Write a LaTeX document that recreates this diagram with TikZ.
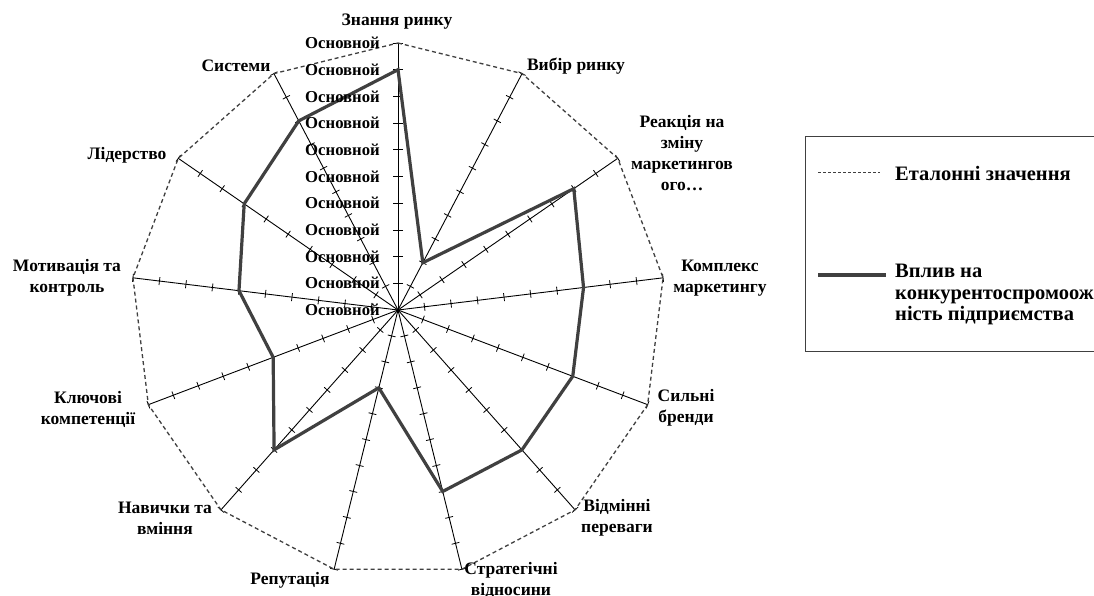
\documentclass[tikz,border=0pt]{standalone}
\usepackage{fontspec}
\setmainfont{Liberation Serif}
\definecolor{dgray}{HTML}{404040}
\tikzset{
  lbl/.style={font=\bfseries\fontsize{17.5}{21}\selectfont, align=center, inner sep=0pt},
  vlbl/.style={font=\bfseries\fontsize{16.7}{20}\selectfont, inner sep=0pt},
  leglbl/.style={font=\bfseries\fontsize{20.5}{21.5}\selectfont, inner sep=0pt},
  axisline/.style={draw=black, line width=0.9pt},
  tickmark/.style={draw=black, line width=0.8pt},
  refline/.style={draw=dgray, line width=1.3pt, dash pattern=on 4pt off 3pt},
  dataline/.style={draw=dgray, line width=3.2pt, line join=miter},
  legbox/.style={draw=dgray, line width=1pt}
}
\begin{document}
\begin{tikzpicture}[x=1pt,y=-1pt]
\useasboundingbox (0,0) rectangle (1094,596);
\clip (0,0) rectangle (1094,596);
\fill[white] (0,0) rectangle (1094,596);
\def\R{26.7}
\coordinate (c) at (398,310);
% outer and data points
\foreach \k/\v in {0/9,1/2,2/8,3/7,4/7,5/7,6/7,7/3,8/7,9/5,10/6,11/7,12/8}{
  \pgfmathsetmacro{\ang}{90-\k*360/13}
  \coordinate (o\k) at ({398+10*\R*cos(\ang)},{310-10*\R*sin(\ang)});
  \coordinate (d\k) at ({398+\v*\R*cos(\ang)},{310-\v*\R*sin(\ang)});
  \draw[axisline] (c) -- (o\k);
  \foreach \i in {1,...,10}{
    \pgfmathsetmacro{\tl}{ifthenelse(\k==0,5,4)}
    \draw[tickmark] ({398+\i*\R*cos(\ang)+\tl*sin(\ang)},{310-\i*\R*sin(\ang)+\tl*cos(\ang)})
      -- ({398+\i*\R*cos(\ang)-\tl*sin(\ang)},{310-\i*\R*sin(\ang)-\tl*cos(\ang)});
  }
}
% reference polygon
\draw[refline] (o0)--(o1)--(o2)--(o3)--(o4)--(o5)--(o6)--(o7)--(o8)--(o9)--(o10)--(o11)--(o12)--cycle;
% data polygon
\draw[dataline] (d0)--(d1)--(d2)--(d3)--(d4)--(d5)--(d6)--(d7)--(d8)--(d9)--(d10)--(d11)--(d12)--cycle;
% value axis labels
\foreach \i in {0,...,10}{
  \node[vlbl, anchor=east] (v\i) at (380,{310-\i*\R}) {Основной};
}
% category labels
\node[lbl] (l0) at (397,22) {Знання ринку};
\node[lbl] (l1) at (576,66) {Вибір ринку};
\node[lbl] (l2) at (682,153) {Реакція на\\зміну\\маркетингов\\ого…};
\node[lbl] (l3) at (720,278) {Комплекс\\маркетингу};
\node[lbl] (l4) at (686,408) {Сильні\\бренди};
\node[lbl] (l5) at (617,518) {Відмінні\\переваги};
\node[lbl] (l6) at (511,580) {Стратегічні\\відносини};
\node[lbl] (l7) at (290,580) {Репутація};
\node[lbl] (l8) at (165,518) {Навички та\\вміння};
\node[lbl] (l9) at (88,409) {Ключові\\компетенції};
\node[lbl] (l10) at (67,278) {Мотивація та\\контроль};
\node[lbl] (l11) at (127,155) {Лідерство};
\node[lbl] (l12) at (236,66) {Системи};
% legend
\draw[legbox] (805,137) rectangle (1110,351);
\coordinate (ra) at (818,173);
\coordinate (rb) at (880,173);
\draw[refline, line width=1pt, dash pattern=on 3pt off 2pt] (ra) -- (rb);
\node[leglbl, anchor=west] (t1) at (895,173) {Еталонні значення};
\coordinate (sa) at (818,275);
\coordinate (sb) at (886,275);
\draw[dataline] (sa) -- (sb);
\node[leglbl, anchor=north west, align=left] (t2) at (895,264) {Вплив на\\конкурентоспромоож\\ність підприємства};
\end{tikzpicture}
\end{document}
